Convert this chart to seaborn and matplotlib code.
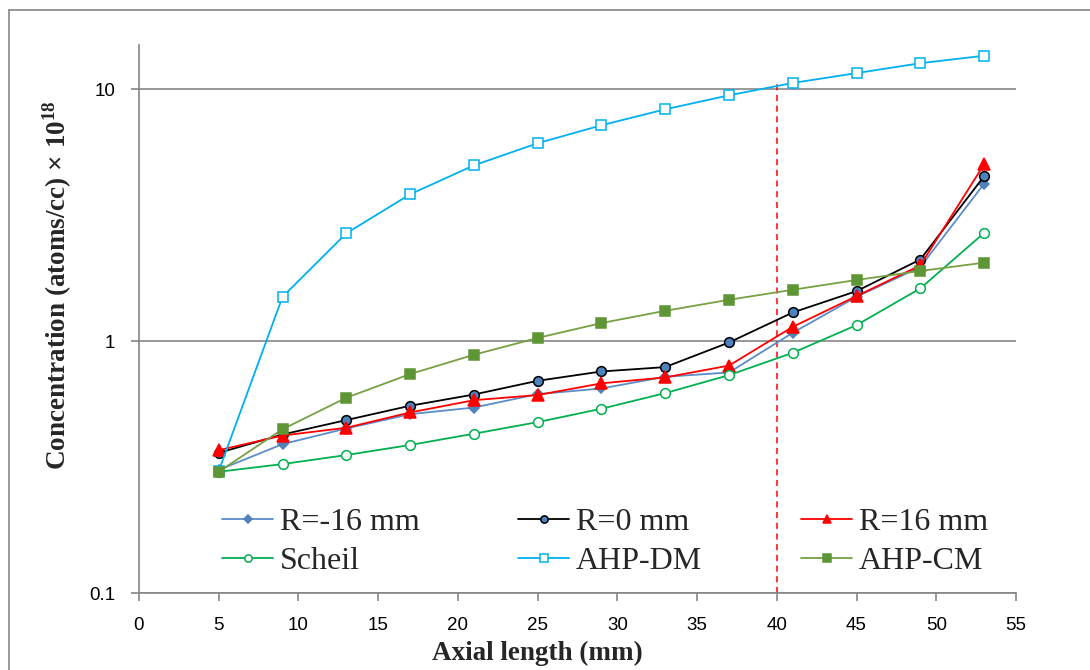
import matplotlib
matplotlib.use("Agg")
import matplotlib.pyplot as plt
from matplotlib.lines import Line2D
import seaborn as sns
import pandas as pd

# ---- data ----
axial_mm = [5, 9, 13, 17, 21, 25, 29, 33, 37, 41, 45, 49, 53]
r_minus16 = [0.308, 0.39, 0.45, 0.513, 0.545, 0.616, 0.649, 0.722, 0.751, 1.08, 1.50, 1.97, 4.22]
r_0 = [0.36, 0.426, 0.486, 0.554, 0.614, 0.696, 0.758, 0.789, 0.988, 1.30, 1.58, 2.11, 4.52]
r_16 = [0.369, 0.422, 0.453, 0.521, 0.583, 0.611, 0.68, 0.718, 0.80, 1.14, 1.51, 2.0, 5.04]
scheil = [0.303, 0.325, 0.353, 0.387, 0.429, 0.477, 0.539, 0.622, 0.733, 0.899, 1.158, 1.62, 2.69]
ahp_dm = [0.305, 1.50, 2.68, 3.83, 4.99, 6.11, 7.2, 8.33, 9.47, 10.6, 11.6, 12.7, 13.6]
ahp_cm = [0.303, 0.447, 0.596, 0.74, 0.883, 1.03, 1.18, 1.32, 1.46, 1.60, 1.75, 1.90, 2.05]
divider_x = [40, 40]
divider_y = [0.1, 10.5]
x_ticks = [0, 5, 10, 15, 20, 25, 30, 35, 40, 45, 50, 55]
y_ticks = [0.1, 1, 10]
y_tick_labels = ["0.1", "1", "10"]

series = [
    ("R=-16 mm", r_minus16, dict(color="#5B8DC8", marker="D", markersize=5,
                                 markerfacecolor="#4F81BD", markeredgecolor="#4F81BD")),
    ("R=0 mm", r_0, dict(color="black", marker="o", markersize=7,
                         markerfacecolor="#4F81BD", markeredgecolor="black")),
    ("R=16 mm", r_16, dict(color="#FF0000", marker="^", markersize=8,
                           markerfacecolor="#FF0000", markeredgecolor="#FF0000")),
    ("Scheil", scheil, dict(color="#00B050", marker="o", markersize=7,
                            markerfacecolor="white", markeredgecolor="#00B050")),
    ("AHP-DM", ahp_dm, dict(color="#00B0F0", marker="s", markersize=7,
                            markerfacecolor="white", markeredgecolor="#00B0F0")),
    ("AHP-CM", ahp_cm, dict(color="#77A043", marker="s", markersize=7,
                            markerfacecolor="#5E9535", markeredgecolor="#5E9535")),
]

sns.set_theme(style="white")
plt.rcParams["font.family"] = ["Liberation Sans", "DejaVu Sans"]
plt.rcParams["mathtext.fontset"] = "custom"
plt.rcParams["mathtext.rm"] = "Liberation Serif:bold"
plt.rcParams["mathtext.bf"] = "Liberation Serif:bold"

fig = plt.figure(figsize=(10.9, 6.7), dpi=100)
fig.patch.set_facecolor("white")
fig.patch.set_edgecolor("white")
fig.patch.set_linewidth(0)
ax = fig.add_axes([139 / 1090, 1 - 593 / 670, 877 / 1090, 548 / 670])

for name, vals, kw in series:
    df = pd.DataFrame({"x": axial_mm, "y": vals})
    sns.lineplot(data=df, x="x", y="y", ax=ax, label=name, linewidth=1.3,
                 markeredgewidth=1.1, **kw)

ax.plot(divider_x, divider_y, color="#FF0000", linestyle=(0, (4, 3)), linewidth=1.1, zorder=1)

ax.set_yscale("log")
ax.set_xlim(0, 55)
ax.set_ylim(0.1, 15)
ax.set_xticks(x_ticks)
ax.set_xticklabels([str(t) for t in x_ticks])
ax.set_yticks(y_ticks)
ax.set_yticklabels(y_tick_labels)
ax.minorticks_off()

gray = "#868686"
for s in ["top", "right"]:
    ax.spines[s].set_visible(False)
for s in ["left", "bottom"]:
    ax.spines[s].set_color(gray)
    ax.spines[s].set_linewidth(1.2)
ax.grid(axis="y", which="major", color=gray, linewidth=1.2)
ax.grid(axis="x", visible=False)
ax.set_axisbelow(True)
ax.tick_params(axis="both", which="major", direction="out", length=6, width=1.2,
               color=gray, labelsize=13.5, labelcolor="black", left=True, bottom=True)
ax.tick_params(axis="y", pad=11)
ax.tick_params(axis="x", pad=11)

ax.set_xlabel("")
ax.set_ylabel("")
fig.text(537 / 1090, 1 - 653 / 670, "Axial length (mm)", ha="center", va="center",
         family="Liberation Serif", fontweight="bold", fontsize=19.5)
fig.text(57 / 1090, 1 - 285 / 670, r"Concentration (atoms/cc) × 10$^{18}$", ha="center",
         va="center", rotation=90, family="Liberation Serif", fontweight="bold", fontsize=19.5)

handles, labels = ax.get_legend_handles_labels()
order = [0, 3, 1, 4, 2, 5]
leg = ax.legend([handles[i] for i in order], [labels[i] for i in order], ncol=3,
                loc="upper left", bbox_to_anchor=((222 - 139) / 877, 1 - (508 - 45) / 548),
                frameon=False, prop={"family": "Liberation Serif", "size": 23},
                handlelength=1.6, handletextpad=0.2, columnspacing=3.1,
                labelspacing=0.3, borderpad=0, borderaxespad=0, markerscale=0.75)

# outer chart-area border (top and left edges visible in the reference)
bx, by = 8.5 / 1090, 1 - 9.5 / 670
fig.add_artist(Line2D([bx, 1.0], [by, by], transform=fig.transFigure, color=gray, linewidth=1.2))
fig.add_artist(Line2D([bx, bx], [0.0, by], transform=fig.transFigure, color=gray, linewidth=1.2))

fig.savefig("out.png", dpi=100, facecolor="white", edgecolor="white")
